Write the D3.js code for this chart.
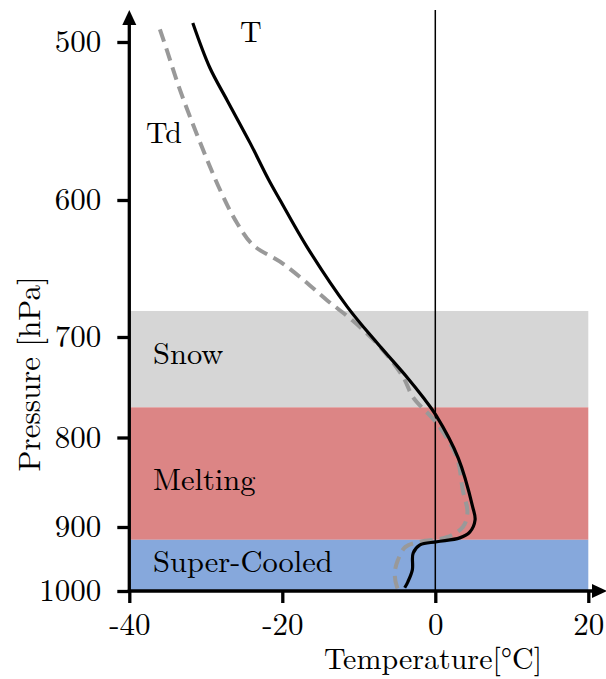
<!DOCTYPE html>
<html>
<head>
<meta charset="utf-8">
<script src="https://cdn.jsdelivr.net/npm/d3@7"></script>
<style>
  body { margin: 0; background: #fff; }
</style>
</head>
<body>
<div id="chart"></div>
<script>
// Pressure tick values (hPa) and temperature ticks (degC)
const pressureTicks = [500, 600, 700, 800, 900, 1000];
const tempTicks = [-40, -20, 0, 20];

// Layers: name, top pressure, bottom pressure, colour
const layerNames = ["Snow", "Melting", "Super-Cooled"];
const layerTop = [681, 770, 920];
const layerBottom = [770, 920, 1000];
const layerColors = ["#d6d6d6", "#dc8585", "#86a8dc"];

// Temperature profile (T)
const tPressure = [488, 516, 537, 564, 587, 600, 634, 678, 706, 740, 760, 778, 823, 878, 892, 908, 917, 923, 928, 941, 967, 986, 995];
const tTemp = [-31.7, -29.5, -27.2, -24.2, -21.8, -20.3, -16.8, -11.5, -7.6, -3.7, -1.6, 0.1, 3.0, 4.9, 5.2, 4.5, 3.2, 0.2, -2.0, -2.9, -3.0, -3.6, -4.0];

// Dew point profile (Td)
const tdPressure = [492, 505, 530, 558, 594, 617, 633, 645, 658, 673, 688, 710, 740, 760, 786, 822, 859, 884, 900, 916, 923, 931, 952, 972, 994, 1003];
const tdTemp = [-36.0, -35.1, -33.4, -31.2, -28.1, -25.9, -23.8, -20.3, -17.3, -14.2, -10.8, -7.2, -4.2, -2.9, 0.2, 2.8, 3.6, 4.2, 3.6, 1.5, -1.9, -3.9, -4.9, -5.3, -5.0, -4.6];

const width = 606, height = 679;
const font = "'Latin Modern Roman', 'Liberation Serif', serif";

const svg = d3.select("#chart").append("svg")
  .attr("width", width)
  .attr("height", height)
  .attr("font-family", font);

const x = d3.scaleLinear().domain([-40, 20]).range([129.3, 588.3]);
// polylinear: the axis spacing in the reference is not a plain log scale
const y = d3.scaleLinear()
  .domain(pressureTicks)
  .range([42, 200, 337, 437.5, 527, 591]);

// Layer bands
svg.selectAll("rect.layer")
  .data(layerNames)
  .join("rect")
  .attr("class", "layer")
  .attr("x", x(-40))
  .attr("width", x(20) - x(-40))
  .attr("y", (d, i) => y(layerTop[i]))
  .attr("height", (d, i) => y(layerBottom[i]) - y(layerTop[i]))
  .attr("fill", (d, i) => layerColors[i]);

// Layer labels
const labelY = [364, 490, 572];
svg.selectAll("text.layer-label")
  .data(layerNames)
  .join("text")
  .attr("class", "layer-label")
  .attr("x", 153)
  .attr("y", (d, i) => labelY[i])
  .attr("font-size", 30.5)
  .text(d => d);

// 0 degC line
svg.append("line")
  .attr("x1", x(0)).attr("x2", x(0))
  .attr("y1", 10).attr("y2", y(1000))
  .attr("stroke", "#000")
  .attr("stroke-width", 1.5);

// Profiles
const line = d3.line().curve(d3.curveCatmullRom.alpha(0.5));

svg.append("path")
  .attr("d", line(tdPressure.map((p, i) => [x(tdTemp[i]), y(p)])))
  .attr("fill", "none")
  .attr("stroke", "#999")
  .attr("stroke-width", 4)
  .attr("stroke-dasharray", "13,7");

svg.append("path")
  .attr("d", line(tPressure.map((p, i) => [x(tTemp[i]), y(p)])))
  .attr("fill", "none")
  .attr("stroke", "#000")
  .attr("stroke-width", 3.2);

svg.append("text").attr("x", 240).attr("y", 42).attr("font-size", 30).text("T");
svg.append("text").attr("x", 146).attr("y", 143).attr("font-size", 30).text("Td");

// Axes
const yAxis = svg.append("g")
  .attr("transform", `translate(${x(-40)},0)`)
  .call(d3.axisLeft(y).tickValues(pressureTicks).tickSize(12).tickPadding(16).tickFormat(d3.format("d")));

const xAxis = svg.append("g")
  .attr("transform", `translate(0,${y(1000)})`)
  .call(d3.axisBottom(x).tickValues(tempTicks).tickSize(12).tickPadding(10).tickFormat(d => d));

[yAxis, xAxis].forEach(g => {
  g.attr("font-family", font).attr("font-size", 31);
  g.select(".domain").remove();
  g.selectAll(".tick line").attr("stroke", "#000").attr("stroke-width", 3.3);
  g.selectAll(".tick text").attr("fill", "#000");
});

// Axis lines with arrow heads
svg.append("line")
  .attr("x1", x(-40)).attr("x2", x(-40))
  .attr("y1", y(1000) + 1.5).attr("y2", 22)
  .attr("stroke", "#000").attr("stroke-width", 3.3);
svg.append("path")
  .attr("d", `M${x(-40)},10 L${x(-40) - 7},25 L${x(-40) + 7},25 Z`)
  .attr("fill", "#000");

svg.append("line")
  .attr("x1", x(-40) - 1.5).attr("x2", 594)
  .attr("y1", y(1000)).attr("y2", y(1000))
  .attr("stroke", "#000").attr("stroke-width", 3.3);
svg.append("path")
  .attr("d", `M607,${y(1000)} L592,${y(1000) - 7} L592,${y(1000) + 7} Z`)
  .attr("fill", "#000");

// Axis titles
svg.append("text")
  .attr("x", 433)
  .attr("y", 669)
  .attr("text-anchor", "middle")
  .attr("font-size", 30)
  .text("Temperature[°C]");

svg.append("text")
  .attr("transform", "rotate(-90)")
  .attr("x", -374)
  .attr("y", 40)
  .attr("text-anchor", "middle")
  .attr("font-size", 31)
  .text("Pressure [hPa]");
</script>
</body>
</html>
